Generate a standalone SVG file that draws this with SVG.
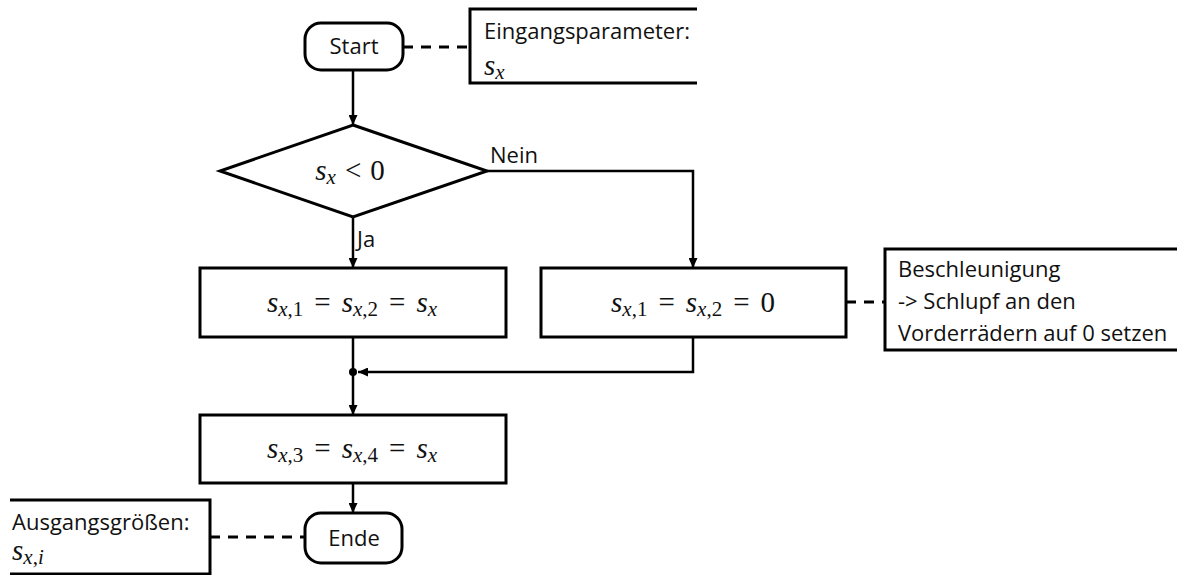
<svg xmlns="http://www.w3.org/2000/svg" width="1177" height="575" viewBox="0 0 1177 575">
<style>
.shape{fill:#fff;stroke:#000;stroke-width:3}
.ann{fill:none;stroke:#000;stroke-width:3}
.line{fill:none;stroke:#000;stroke-width:2.5}
.dash{fill:none;stroke:#000;stroke-width:3;stroke-dasharray:10 8}
.t{font-family:"Open Sans",Lato,"Liberation Sans",sans-serif;font-size:22px;fill:#111}
.m{font-family:"Liberation Serif","DejaVu Serif",serif;font-size:29px;fill:#111}
.i{font-style:italic}
.sub{font-size:21px}
</style>
<defs>
<marker id="arr" markerUnits="userSpaceOnUse" markerWidth="10" markerHeight="9" refX="10" refY="4.5" orient="auto">
<path d="M0,0 L10,4.5 L0,9 z" fill="#000"/>
</marker>
</defs>
<g id="connectors">
<path class="dash" d="M403,47 H470"/>
<path class="line" d="M353,70 V125" marker-end="url(#arr)"/>
<path class="line" d="M487,171 H693 V268" marker-end="url(#arr)"/>
<path class="line" d="M353,217 V268" marker-end="url(#arr)"/>
<path class="dash" d="M846,302 H885"/>
<path class="line" d="M353,337 V415" marker-end="url(#arr)"/>
<path class="line" d="M693,338 V372 H358" marker-end="url(#arr)"/>
<circle cx="353" cy="372" r="4" fill="#000"/>
<path class="line" d="M353,483 V513" marker-end="url(#arr)"/>
<path class="dash" d="M210,537 H305"/>
<text class="t" x="490" y="163">Nein</text>
<text class="t" x="357" y="247">Ja</text>
</g>
<g id="start">
<rect class="shape" x="305" y="23" width="98" height="47" rx="16"/>
<text class="t" x="354" y="54" text-anchor="middle">Start</text>
</g>
<g id="eingang">
<path class="ann" d="M697,9 H470 V83 H697"/>
<text class="t" x="484" y="39">Eingangsparameter:</text>
<text class="m" x="484" y="75"><tspan class="i">s</tspan><tspan class="i sub" dy="4">x</tspan></text>
</g>
<g id="decision">
<polygon class="shape" points="353,125 487,171 353,217 220,171"/>
<text class="m" x="350" y="180" text-anchor="middle"><tspan class="i">s</tspan><tspan class="i sub" dy="4">x</tspan><tspan dy="-4" dx="9">&lt;</tspan><tspan dx="9">0</tspan></text>
</g>
<g id="box1">
<rect class="shape" x="200" y="268" width="306" height="69"/>
<text class="m" x="352" y="312" text-anchor="middle"><tspan class="i">s</tspan><tspan class="sub" dy="4"><tspan class="i">x</tspan>,1</tspan><tspan dy="-4" dx="11">=</tspan><tspan class="i" dx="11">s</tspan><tspan class="sub" dy="4"><tspan class="i">x</tspan>,2</tspan><tspan dy="-4" dx="11">=</tspan><tspan class="i" dx="11">s</tspan><tspan class="i sub" dy="4">x</tspan></text>
</g>
<g id="box2">
<rect class="shape" x="541" y="268" width="305" height="69"/>
<text class="m" x="693" y="312" text-anchor="middle"><tspan class="i">s</tspan><tspan class="sub" dy="4"><tspan class="i">x</tspan>,1</tspan><tspan dy="-4" dx="11">=</tspan><tspan class="i" dx="11">s</tspan><tspan class="sub" dy="4"><tspan class="i">x</tspan>,2</tspan><tspan dy="-4" dx="11">=</tspan><tspan dx="11">0</tspan></text>
</g>
<g id="note-beschleunigung">
<path class="ann" d="M1177,249 H885 V350 H1177"/>
<text class="t" x="898" y="277">Beschleunigung</text>
<text class="t" x="898" y="309">-&gt; Schlupf an den</text>
<text class="t" x="898" y="341">Vorderrädern auf 0 setzen</text>
</g>
<g id="box3">
<rect class="shape" x="200" y="415" width="306" height="68"/>
<text class="m" x="352" y="458" text-anchor="middle"><tspan class="i">s</tspan><tspan class="sub" dy="4"><tspan class="i">x</tspan>,3</tspan><tspan dy="-4" dx="11">=</tspan><tspan class="i" dx="11">s</tspan><tspan class="sub" dy="4"><tspan class="i">x</tspan>,4</tspan><tspan dy="-4" dx="11">=</tspan><tspan class="i" dx="11">s</tspan><tspan class="i sub" dy="4">x</tspan></text>
</g>
<g id="ende">
<rect class="shape" x="305" y="513" width="97" height="50" rx="16"/>
<text class="t" x="354" y="546" text-anchor="middle">Ende</text>
</g>
<g id="ausgang">
<path class="ann" d="M10,500 H210 V574 H10"/>
<text class="t" x="12" y="530">Ausgangsgrößen:</text>
<text class="m" x="12" y="560"><tspan class="i">s</tspan><tspan class="sub" dy="4"><tspan class="i">x</tspan>,<tspan class="i">i</tspan></tspan></text>
</g>
</svg>
